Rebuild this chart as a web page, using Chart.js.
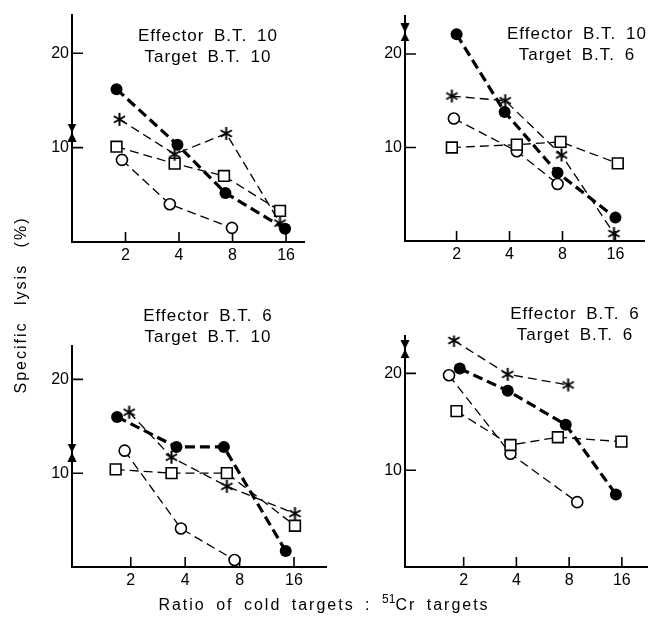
<!DOCTYPE html>
<html><head><meta charset="utf-8">
<script src="https://cdn.jsdelivr.net/npm/chart.js@4.4.1/dist/chart.umd.min.js"></script>
<style>
html,body{margin:0;padding:0;background:#fff;width:654px;height:619px;overflow:hidden}
#wrap{position:relative;width:654px;height:619px}
canvas{position:absolute}
.t{position:absolute;font-family:"Liberation Sans",Arial,sans-serif;color:#000;white-space:nowrap;text-align:center}
</style></head><body><div id="wrap"></div>
<script>
// ---- data ----
const ratioTicks = [2, 4, 8, 16];
const lysisTicks = [10, 20];
const panelTitles = [
  ["Effector B.T. 10", "Target B.T. 10"],
  ["Effector B.T. 10", "Target B.T. 6"],
  ["Effector B.T. 6", "Target B.T. 10"],
  ["Effector B.T. 6", "Target B.T. 6"]
];
const yAxisLabel = "Specific lysis (%)";
const xAxisLabel = ["Ratio of cold targets : ", "51", "Cr targets"];

// panel 1: Effector 10 / Target 10
const p1FilledX = [1.78, 3.92, 7.3, 15.8],  p1FilledY = [16.2, 10.3, 5.2, 1.4];
const p1StarX   = [1.85, 3.78, 7.37, 14.8], p1StarY   = [13.0, 9.3, 11.5, 2.0];
const p1SquareX = [1.78, 3.78, 7.16, 14.8], p1SquareY = [10.1, 8.3, 7.0, 3.3];
const p1OpenX   = [1.91, 3.55, 7.94],       p1OpenY   = [8.7, 4.0, 1.5];
// panel 2: Effector 10 / Target 6
const p2FilledX = [2.0, 3.75, 7.5, 16],     p2FilledY = [22.1, 13.8, 7.3, 2.5];
const p2StarX   = [1.88, 3.78, 7.9, 15.7],  p2StarY   = [15.5, 15.0, 9.2, 0.8];
const p2SquareX = [1.88, 4.4, 7.8, 16.5],   p2SquareY = [10.0, 10.3, 10.6, 8.3];
const p2OpenX   = [1.93, 4.4, 7.5],         p2OpenY   = [13.1, 9.6, 6.1];
// panel 3: Effector 6 / Target 10
const p3FilledX = [1.68, 3.58, 6.55, 14.4], p3FilledY = [16.0, 12.8, 12.8, 1.7];
const p3StarX   = [1.96, 3.36, 6.8, 16.2],  p3StarY   = [16.5, 11.7, 8.6, 5.7];
const p3SquareX = [1.65, 3.36, 6.8, 16.2],  p3SquareY = [10.4, 10.0, 10.0, 4.4];
const p3OpenX   = [1.85, 3.79, 7.5],        p3OpenY   = [12.4, 4.1, 0.75];
// panel 4: Effector 6 / Target 6
const p4FilledX = [1.9, 3.57, 7.65, 14.8],  p4FilledY = [20.5, 18.2, 14.7, 7.5];
const p4StarX   = [1.76, 3.57, 7.9],        p4StarY   = [23.4, 19.9, 18.8];
const p4SquareX = [1.82, 3.7, 6.9, 15.9],   p4SquareY = [16.1, 12.6, 13.4, 12.95];
const p4OpenX   = [1.65, 3.7, 8.9],         p4OpenY   = [19.8, 11.7, 6.7];
// arrow markers on the y axis
const arrowLysis = [11.6, 22.3, 12.2, 22.5];

// ---- layout (page pixel boxes of each plot area) ----
const layouts = [
  {L:72,  T:12,  R:310, B:242, xMin:1.0,   xMax:20.4, yMax:24.1, tx:208, ty:24.5},
  {L:405, T:13,  R:650, B:241, xMin:1.018, xMax:23.5, yMax:24.1, tx:577, ty:23},
  {L:72,  T:343, R:332, B:567, xMin:0.946, xMax:24.3, yMax:23.6, tx:208, ty:304.5},
  {L:405, T:333, R:653, B:567, xMin:0.925, xMax:22.5, yMax:23.9, tx:575, ty:303}
];
const series = [
  {fx:p1FilledX,fy:p1FilledY,sx:p1StarX,sy:p1StarY,qx:p1SquareX,qy:p1SquareY,ox:p1OpenX,oy:p1OpenY},
  {fx:p2FilledX,fy:p2FilledY,sx:p2StarX,sy:p2StarY,qx:p2SquareX,qy:p2SquareY,ox:p2OpenX,oy:p2OpenY},
  {fx:p3FilledX,fy:p3FilledY,sx:p3StarX,sy:p3StarY,qx:p3SquareX,qy:p3SquareY,ox:p3OpenX,oy:p3OpenY},
  {fx:p4FilledX,fy:p4FilledY,sx:p4StarX,sy:p4StarY,qx:p4SquareX,qy:p4SquareY,ox:p4OpenX,oy:p4OpenY}
];

const FONT = '"Liberation Sans", Arial, sans-serif';
const zip = (xs, ys) => xs.map((x, i) => ({x, y: ys[i]}));

// custom point glyphs
function makeStar() {
  const c = document.createElement('canvas'); c.width = 15; c.height = 15;
  const g = c.getContext('2d'); g.strokeStyle = '#000'; g.lineWidth = 2; g.lineCap = 'butt';
  const r = 6.5, cx = 7.5, cy = 7.5;
  g.beginPath();
  for (let k = 0; k < 3; k++) {
    const a = Math.PI / 2 + k * Math.PI / 3;
    g.moveTo(cx + r * Math.cos(a), cy + r * Math.sin(a));
    g.lineTo(cx - r * Math.cos(a), cy - r * Math.sin(a));
  }
  g.stroke();
  return c;
}
function makeBowtie() {
  const c = document.createElement('canvas'); c.width = 10; c.height = 18;
  const g = c.getContext('2d'); g.fillStyle = '#000';
  g.beginPath(); g.moveTo(0.5, 0); g.lineTo(9.5, 0); g.lineTo(5, 9); g.closePath(); g.fill();
  g.beginPath(); g.moveTo(5, 9); g.lineTo(0.5, 18); g.lineTo(9.5, 18); g.closePath(); g.fill();
  return c;
}
const starImg = makeStar();
const bowImg = makeBowtie();

const innerTicks = {
  id: 'innerTicks',
  beforeDatasetsDraw(chart) {
    const {ctx, chartArea: a, scales: {x, y}} = chart;
    ctx.save(); ctx.strokeStyle = '#000'; ctx.lineWidth = 1.6; ctx.beginPath();
    x.ticks.forEach(t => { const px = x.getPixelForValue(t.value); ctx.moveTo(px, a.bottom); ctx.lineTo(px, a.bottom - 10); });
    y.ticks.forEach(t => { const py = y.getPixelForValue(t.value); ctx.moveTo(a.left, py); ctx.lineTo(a.left + 11, py); });
    ctx.stroke(); ctx.restore();
  }
};

const wrap = document.getElementById('wrap');
const padL = 50, padT = 10, padR = 4, padB = 32;

layouts.forEach((lay, i) => {
  const s = series[i];
  const cv = document.createElement('canvas');
  const W = lay.R - lay.L + padL + padR, H = lay.B - lay.T + padT + padB;
  cv.width = W; cv.height = H;
  cv.style.left = (lay.L - padL) + 'px'; cv.style.top = (lay.T - padT) + 'px';
  cv.style.width = W + 'px'; cv.style.height = H + 'px';
  wrap.appendChild(cv);

  const thin = {borderColor:'#000', borderWidth:1.3, borderDash:[9,5], pointBackgroundColor:'#fff', pointBorderColor:'#000', pointBorderWidth:1.6, showLine:true, tension:0, fill:false};
  const datasets = [
    {label:'filled', data: zip(s.fx, s.fy), borderColor:'#000', borderWidth:3.2, borderDash:[10,5], pointStyle:'circle', pointRadius:6, pointBackgroundColor:'#000', pointBorderColor:'#000', pointBorderWidth:0, showLine:true, tension:0, fill:false},
    Object.assign({label:'star', data: zip(s.sx, s.sy), pointStyle: starImg, pointRadius:7}, thin),
    Object.assign({label:'square', data: zip(s.qx, s.qy), pointStyle:'rect', pointRadius:7.6}, thin),
    Object.assign({label:'open', data: zip(s.ox, s.oy), pointStyle:'circle', pointRadius:5.5}, thin),
    {label:'arrow', data:[{x: lay.xMin, y: arrowLysis[i]}], pointStyle: bowImg, pointRadius:6, showLine:false, clip:false}
  ];

  new Chart(cv, {
    type: 'scatter',
    data: {datasets},
    options: {
      responsive: false, animation: false, events: [],
      layout: {padding: {top: padT, right: padR, left: 0, bottom: 0}},
      plugins: {legend: {display:false}, tooltip: {enabled:false}, title: {display:false}},
      scales: {
        x: {
          type: 'logarithmic', min: lay.xMin, max: lay.xMax,
          afterBuildTicks: sc => { sc.ticks = ratioTicks.map(v => ({value: v})); },
          afterFit: sc => { sc.height = padB; },
          ticks: {callback: v => String(v), color:'#000', font:{family:FONT, size:16}, padding:4, autoSkip:false, maxRotation:0},
          grid: {drawOnChartArea:false, drawTicks:false, color:'#000'},
          border: {display:true, color:'#000', width:2}
        },
        y: {
          type: 'linear', min: 0, max: lay.yMax,
          afterBuildTicks: sc => { sc.ticks = lysisTicks.map(v => ({value: v})); },
          afterFit: sc => { sc.width = padL; },
          ticks: {callback: v => String(v), color:'#000', font:{family:FONT, size:16}, padding:3},
          grid: {drawOnChartArea:false, drawTicks:false, color:'#000'},
          border: {display:true, color:'#000', width:2}
        }
      }
    },
    plugins: [innerTicks]
  });

  const t = document.createElement('div');
  t.className = 't';
  t.style.cssText = `left:${lay.tx - 110}px;top:${lay.ty}px;width:220px;font-size:17px;line-height:21px;letter-spacing:1px;word-spacing:4px;`;
  t.innerHTML = panelTitles[i].join('<br>');
  wrap.appendChild(t);
});

// shared axis labels
const yl = document.createElement('div');
yl.className = 't';
yl.style.cssText = 'left:-129px;top:295px;width:300px;font-size:16px;line-height:20px;letter-spacing:2px;word-spacing:10px;transform:rotate(-90deg);transform-origin:50% 50%;';
yl.textContent = yAxisLabel;
wrap.appendChild(yl);

const xl = document.createElement('div');
xl.className = 't';
xl.style.cssText = 'left:124px;top:595px;width:400px;font-size:16px;line-height:20px;letter-spacing:2px;word-spacing:4px;';
xl.innerHTML = xAxisLabel[0] + '<span style="font-size:12px;position:relative;top:-7px;letter-spacing:0">' + xAxisLabel[1] + '</span>' + xAxisLabel[2];
wrap.appendChild(xl);
</script></body></html>
